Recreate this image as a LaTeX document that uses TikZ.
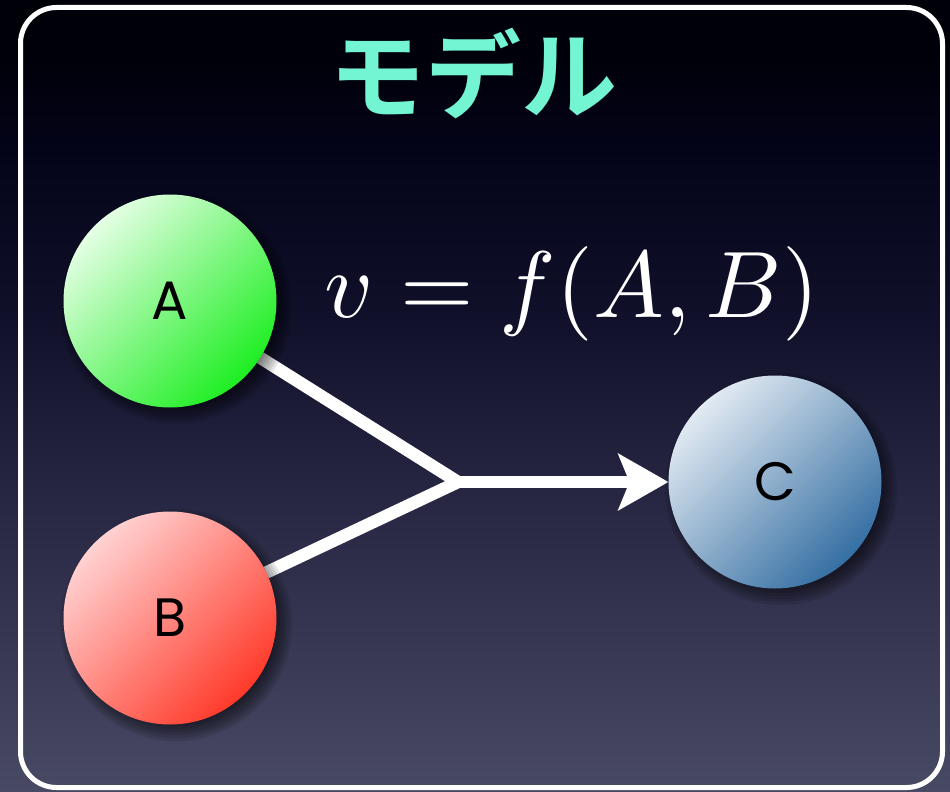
\documentclass[tikz,border=0pt]{standalone}
\usepackage{fontspec}
\newfontfamily\cjkbold{Noto Sans CJK JP Bold}
\newfontfamily\labelfont{Poppins}
\usetikzlibrary{arrows.meta}
\definecolor{bgA}{HTML}{484963}
\definecolor{bgB}{HTML}{3A3A56}
\definecolor{bgC}{HTML}{242440}
\definecolor{bgD}{HTML}{10102A}
\definecolor{bgE}{HTML}{04041A}
\definecolor{bgF}{HTML}{000008}
\definecolor{titlecol}{HTML}{73F5D2}
\definecolor{gAlight}{HTML}{E4FFE4}
\definecolor{gAdark}{HTML}{1EEE22}
\definecolor{gBlight}{HTML}{FFD2D2}
\definecolor{gBdark}{HTML}{FF3A2A}
\definecolor{gClight}{HTML}{E2EAF2}
\definecolor{gCdark}{HTML}{356FA3}
\pgfdeclareverticalshading{bgshade}{100bp}{color(0bp)=(bgA); color(25bp)=(bgA); color(33bp)=(bgB); color(45bp)=(bgC); color(55bp)=(bgD); color(65bp)=(bgE); color(72bp)=(bgF); color(100bp)=(bgF)}
\pgfdeclarelayer{bg}
\pgfdeclarelayer{lines}
\pgfdeclarelayer{shade}
\pgfsetlayers{bg,lines,shade,main}
\begin{document}
\begin{tikzpicture}[x=1pt,y=-1pt,
  ball/.style={circle, minimum size=213pt, inner sep=0pt, outer sep=0pt,
    font=\labelfont\fontsize{54}{54}\selectfont, text=black},
  conn/.style={white, line width=12.5pt},
  frame/.style={white, line width=5pt, rounded corners=36pt},
  shadowdisc/.style={fill=black, opacity=0.1}]
\useasboundingbox (0,0) rectangle (950,792);
\begin{pgfonlayer}{bg}
  \fill[shading=bgshade] (0,0) rectangle (950,792);
\end{pgfonlayer}
\draw[frame] (20.5,7.5) rectangle (942.5,787.5);
\node[font=\fontsize{96}{96}\selectfont\cjkbold, text=titlecol] (T) at (473,73) {モデル};
\node[text=white, font=\fontsize{10}{10}\selectfont, anchor=base, scale=9.45, inner sep=0pt] (F) at (572,317) {$v = f(A,B)$};
\node[ball, top color=gAlight, bottom color=gAdark, shading angle=45] (A) at (170,301) {A};
\node[ball, top color=gBlight, bottom color=gBdark, shading angle=45] (B) at (170,618) {B};
\node[ball, top color=gClight, bottom color=gCdark, shading angle=45] (C) at (775,482) {C};
\begin{pgfonlayer}{shade}
  \foreach \n in {A,B,C}{
    \foreach \r in {116,113,110,107,104,101}{
      \fill[shadowdisc] ([shift={(6,7)}]\n.center) circle[radius=\r];
    }
  }
\end{pgfonlayer}
\coordinate (J) at (458,482);
\begin{pgfonlayer}{lines}
  \draw[conn] (A) -- (J);
  \draw[conn] (B) -- (J);
  \draw[conn, -{Stealth[length=50pt,width=56pt,inset=11pt]}] (J) -- (C);
\end{pgfonlayer}
\end{tikzpicture}
\end{document}
